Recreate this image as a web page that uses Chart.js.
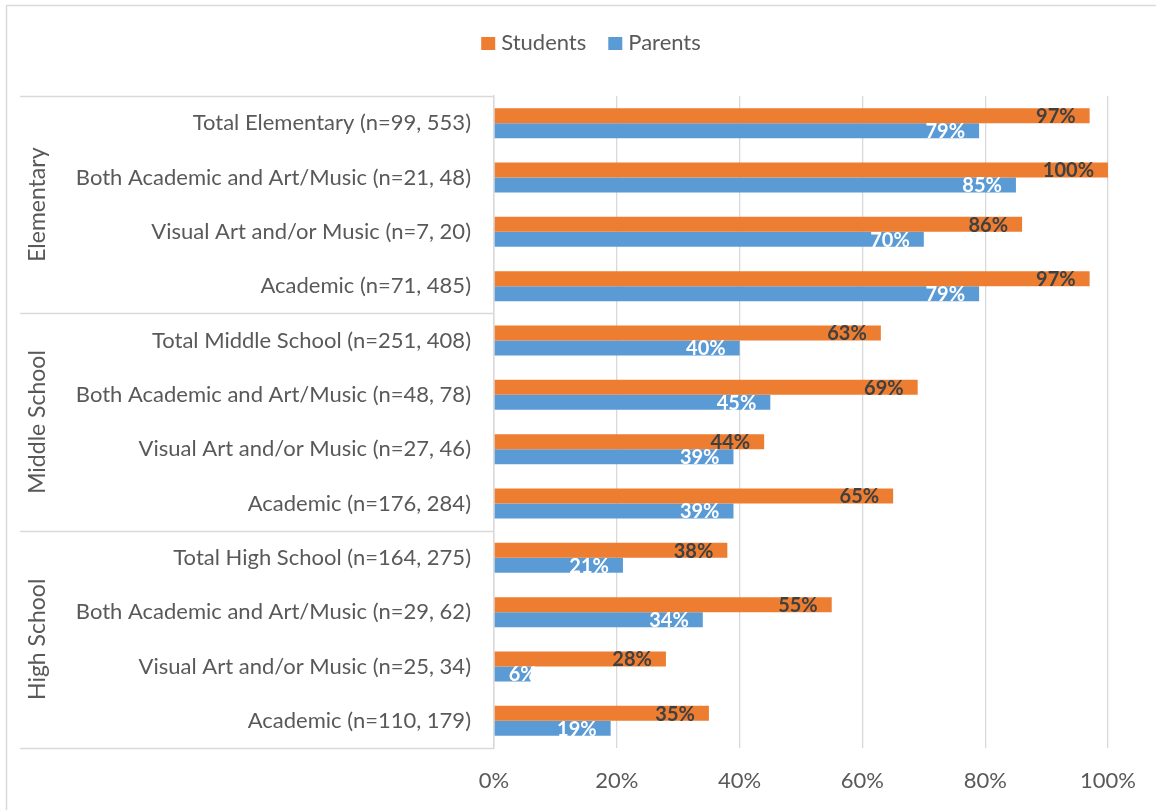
<!DOCTYPE html>
<html>
<head>
<meta charset="utf-8">
<script src="https://cdn.jsdelivr.net/npm/chart.js@4.4.1/dist/chart.umd.min.js"></script>
<style>
  html, body { margin: 0; padding: 0; background: #ffffff; }
  #wrap { width: 1156px; height: 810px; position: relative; }
</style>
</head>
<body>
<div id="wrap"><canvas id="c" width="1156" height="810"></canvas></div>
<script>
const categories = [
  "Total Elementary (n=99, 553)",
  "Both Academic and Art/Music (n=21, 48)",
  "Visual Art and/or Music (n=7, 20)",
  "Academic (n=71, 485)",
  "Total Middle School (n=251, 408)",
  "Both Academic and Art/Music (n=48, 78)",
  "Visual Art and/or Music (n=27, 46)",
  "Academic (n=176, 284)",
  "Total High School (n=164, 275)",
  "Both Academic and Art/Music (n=29, 62)",
  "Visual Art and/or Music (n=25, 34)",
  "Academic (n=110, 179)"
];
const groups = ["Elementary", "Middle School", "High School"];
const groupSizes = [4, 4, 4];
const seriesNames = ["Students", "Parents"];
const students = [97, 100, 86, 97, 63, 69, 44, 65, 38, 55, 28, 35];
const parents  = [79, 85, 70, 79, 40, 45, 39, 39, 21, 34, 6, 19];
const xTicks = [0, 20, 40, 60, 80, 100];

const COL_STUD = "#ED7D31";
const COL_PAR = "#5B9BD5";
const TXT = "#595959";
const LINE = "#D9D9D9";
const FONT = "Lato, 'Open Sans', 'Liberation Sans', sans-serif";

const bgPlugin = {
  id: 'bg',
  beforeDraw(chart) {
    const ctx = chart.ctx;
    ctx.save();
    ctx.fillStyle = '#ffffff';
    ctx.fillRect(0, 0, chart.width, chart.height);
    ctx.strokeStyle = LINE;
    ctx.lineWidth = 1.5;
    ctx.strokeRect(6.5, 5.5, chart.width + 20, chart.height + 20);
    ctx.restore();
  }
};

const legendPlugin = {
  id: 'customLegend',
  afterDraw(chart) {
    const ctx = chart.ctx;
    const colors = [COL_STUD, COL_PAR];
    ctx.save();
    ctx.font = "22px " + FONT;
    ctx.textBaseline = 'middle';
    ctx.textAlign = 'left';
    const box = 14, gapText = 6, gapItem = 22;
    const widths = seriesNames.map(s => ctx.measureText(s).width);
    let total = 0;
    widths.forEach((w, i) => { total += box + gapText + w + (i < widths.length - 1 ? gapItem : 0); });
    let x = 591 - total / 2;
    const cy = 43;
    seriesNames.forEach((s, i) => {
      ctx.fillStyle = colors[i];
      ctx.fillRect(x, cy - 6, box, 13);
      ctx.fillStyle = TXT;
      ctx.fillText(s, x + box + gapText, cy);
      x += box + gapText + widths[i] + gapItem;
    });
    ctx.restore();
  }
};

const groupPlugin = {
  id: 'groups',
  afterDraw(chart) {
    const ctx = chart.ctx;
    const ys = chart.scales.y;
    const ca = chart.chartArea;
    const half = (ys.getPixelForValue(1) - ys.getPixelForValue(0)) / 2;
    ctx.save();
    ctx.strokeStyle = LINE;
    ctx.lineWidth = 1.5;
    let idx = 0;
    const bounds = [ys.getPixelForValue(0) - half];
    groupSizes.forEach(n => { idx += n; bounds.push(ys.getPixelForValue(idx - 1) + half); });
    bounds.forEach(b => {
      ctx.beginPath();
      ctx.moveTo(20, Math.round(b) + 0.5);
      ctx.lineTo(ca.left, Math.round(b) + 0.5);
      ctx.stroke();
    });
    ctx.fillStyle = TXT;
    ctx.font = "23px " + FONT;
    ctx.textAlign = 'center';
    ctx.textBaseline = 'middle';
    groups.forEach((g, i) => {
      const cy = (bounds[i] + bounds[i + 1]) / 2;
      ctx.save();
      ctx.translate(38, cy);
      ctx.rotate(-Math.PI / 2);
      ctx.fillText(g, 0, 0);
      ctx.restore();
    });
    ctx.restore();
  }
};

const labelPlugin = {
  id: 'vals',
  afterDatasetsDraw(chart) {
    const ctx = chart.ctx;
    ctx.save();
    ctx.font = "bold 20px " + FONT;
    ctx.textAlign = 'left';
    ctx.textBaseline = 'middle';
    chart.data.datasets.forEach((ds, di) => {
      const meta = chart.getDatasetMeta(di);
      ctx.fillStyle = di === 0 ? '#404040' : '#FFFFFF';
      meta.data.forEach((el, i) => {
        const t = ds.data[i] + '%';
        const w = ctx.measureText(t).width;
        const x = Math.max(el.x - 14 - w, el.base + 14);
        ctx.fillText(t, x, el.y + 1);
      });
    });
    ctx.restore();
  }
};

new Chart(document.getElementById('c'), {
  type: 'bar',
  data: {
    labels: categories,
    datasets: [
      { label: seriesNames[0], data: students, backgroundColor: COL_STUD, borderWidth: 0 },
      { label: seriesNames[1], data: parents, backgroundColor: COL_PAR, borderWidth: 0 }
    ]
  },
  options: {
    indexAxis: 'y',
    responsive: false,
    animation: false,
    devicePixelRatio: 1,
    categoryPercentage: 0.552,
    barPercentage: 1.0,
    layout: { padding: { left: 0, right: 46, top: 96, bottom: 17 } },
    plugins: {
      legend: { display: false },
      tooltip: { enabled: false }
    },
    scales: {
      x: {
        min: 0, max: 100,
        afterBuildTicks(scale) { scale.ticks = xTicks.map(v => ({ value: v })); },
        afterFit(scale) { scale.height = 45; },
        ticks: {
          color: TXT,
          font: { family: FONT, size: 22 },
          padding: 20,
          callback: v => v + '%'
        },
        grid: { color: LINE, lineWidth: 1.3, drawTicks: false },
        border: { display: false }
      },
      y: {
        afterFit(scale) { scale.width = 494; },
        ticks: {
          color: TXT,
          font: { family: FONT, size: 22 },
          padding: 23
        },
        grid: { display: false, drawTicks: false },
        border: { display: true, color: LINE, width: 1.5 }
      }
    }
  },
  plugins: [bgPlugin, groupPlugin, labelPlugin, legendPlugin]
});
</script>
</body>
</html>
